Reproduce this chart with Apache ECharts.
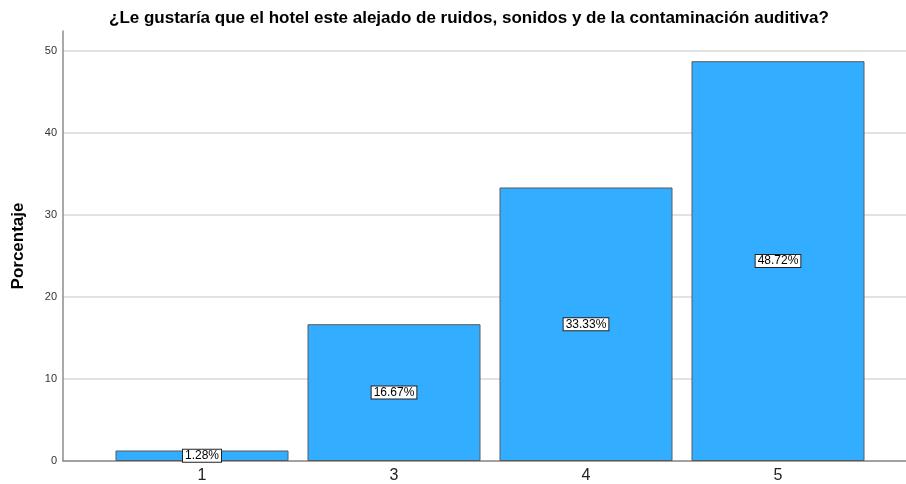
<!DOCTYPE html>
<html>
<head>
<meta charset="utf-8">
<script src="https://cdn.jsdelivr.net/npm/echarts@6/dist/echarts.min.js"></script>
<style>
  html, body { margin: 0; padding: 0; background: #fff; }
  #chart { width: 906px; height: 484px; }
</style>
</head>
<body>
<div id="chart"></div>
<script>
// datos del gráfico
const titleText = '¿Le gustaría que el hotel este alejado de ruidos, sonidos y de la contaminación auditiva?'
const categories = ['1', '3', '4', '5']
const percentages = [1.28, 16.67, 33.33, 48.72]
const yMin = 0
const yMax = 52.4
const yStep = 10

const chart = echarts.init(document.getElementById('chart'))

// dos grids: uno para el eje y el fondo, otro (más estrecho) para las barras
const gridTop = 31
const gridBottom = 23

chart.setOption({
  animation: false,
  textStyle: { fontFamily: 'Liberation Sans, Arial, sans-serif' },
  title: {
    text: titleText,
    left: 104,
    top: 5,
    textStyle: { fontSize: 17, fontWeight: 'bold', color: '#000' }
  },
  grid: [
    { left: 63, right: 0, top: gridTop, bottom: gridBottom },
    { left: 106, right: 32, top: gridTop, bottom: gridBottom }
  ],
  xAxis: [
    {
      gridIndex: 0,
      type: 'category',
      data: [''],
      axisLine: { show: true, lineStyle: { color: '#8c8c8c', width: 1.5 } },
      axisTick: { show: false },
      axisLabel: { show: false }
    },
    {
      gridIndex: 1,
      type: 'category',
      data: categories,
      axisLine: { show: false },
      axisTick: { show: false },
      axisLabel: { fontSize: 16, color: '#222', margin: 7 }
    }
  ],
  yAxis: [
    {
      gridIndex: 0,
      type: 'value',
      min: yMin,
      max: yMax,
      interval: yStep,
      name: 'Porcentaje',
      nameLocation: 'middle',
      nameGap: 36,
      nameTextStyle: { fontSize: 17, fontWeight: 'bold', color: '#000' },
      axisLine: { show: true, lineStyle: { color: '#8c8c8c', width: 1.5 } },
      axisTick: { show: false },
      axisLabel: { fontSize: 11, color: '#333', margin: 6, showMaxLabel: false },
      splitLine: {
        show: true,
        lineStyle: {
          color: ['#d9d9d9', '#d9d9d9', '#d9d9d9', '#d9d9d9', '#d9d9d9', '#d9d9d9', 'rgba(0,0,0,0)'],
          width: 1.5
        }
      }
    },
    {
      gridIndex: 1,
      type: 'value',
      min: yMin,
      max: yMax,
      show: false,
      splitLine: { show: false }
    }
  ],
  series: [
    {
      type: 'bar',
      xAxisIndex: 1,
      yAxisIndex: 1,
      data: percentages,
      barWidth: 173,
      itemStyle: { color: '#33adff', borderColor: '#5a5a5a', borderWidth: 1 },
      label: {
        show: true,
        position: 'inside',
        formatter: (p) => p.value.toFixed(2) + '%',
        fontSize: 12,
        lineHeight: 11,
        color: '#000',
        backgroundColor: '#fff',
        borderColor: '#222',
        borderWidth: 1,
        padding: [1, 2, 0, 2]
      }
    }
  ]
})
</script>
</body>
</html>
